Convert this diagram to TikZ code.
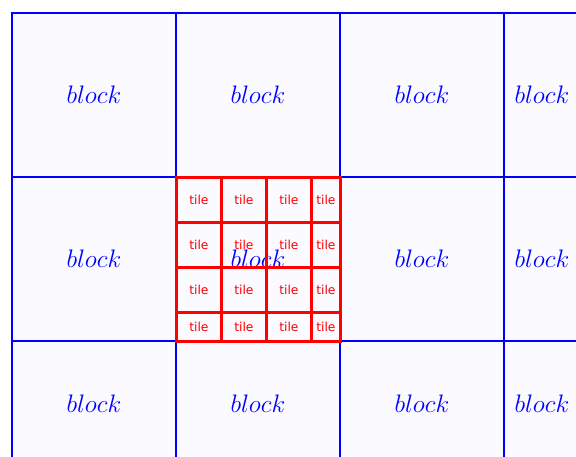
\documentclass[tikz,border=0pt]{standalone}
\usepackage{fontspec}
\newfontfamily\tilefont{DejaVu Sans}
\usetikzlibrary{positioning}

\begin{document}
\begin{tikzpicture}[x=0.02cm, y=-0.02cm,
  block/.style={rectangle, draw=blue, line width=1.1pt, fill=blue!2, anchor=north west,
    inner sep=0pt, text=blue, font=\fontsize{14}{16}\selectfont},
  tile/.style={rectangle, draw=red, line width=1.6pt, anchor=north west,
    inner sep=0pt, text=red, font=\tilefont\fontsize{7}{8}\selectfont}
]
\useasboundingbox (0,0) rectangle (576,457);
\clip (0,0) rectangle (576,457);

% blocks
\foreach \r/\y/\h in {0/12/3.28cm, 1/176/3.28cm, 2/340/2.52cm}
  \foreach \c/\x/\w in {0/11/3.28cm, 1/175/3.28cm, 2/339/3.28cm, 3/503/1.52cm}
    \node[block, minimum width=\w, minimum height=\h] (block-\r-\c) at (\x,\y) {$block$};

% tiles of one block
\foreach \r/\h in {0/0.9cm, 1/0.9cm, 2/0.9cm, 3/0.58cm}
  \foreach \c/\w in {0/0.9cm, 1/0.9cm, 2/0.9cm, 3/0.58cm}
    \node[tile, minimum width=\w, minimum height=\h] (tile-\r-\c) at (175+45*\c, 176+45*\r) {tile};
\end{tikzpicture}
\end{document}
